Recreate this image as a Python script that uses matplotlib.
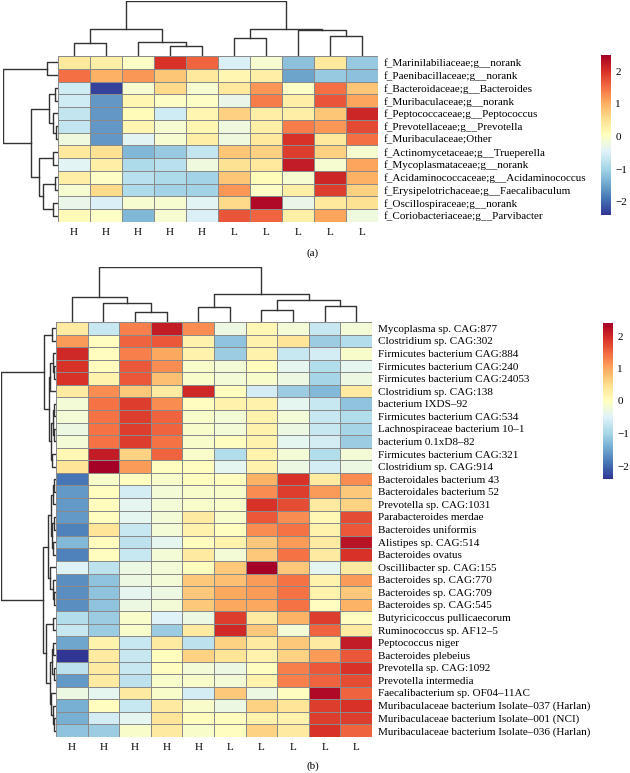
import matplotlib
matplotlib.use("Agg")
import matplotlib.pyplot as plt
import numpy as np

plt.rcParams['font.family'] = ['Liberation Serif', 'DejaVu Serif']

# ---- panel (a) data ----
cols_a = ['H', 'H', 'H', 'H', 'H', 'L', 'L', 'L', 'L', 'L']
rows_a = ['f_Marinilabiliaceae;g__norank', 'f_Paenibacillaceae;g__norank',
          'f_Bacteroidaceae;g__Bacteroides', 'f_Muribaculaceae;g__norank',
          'f_Peptococcaceae;g__Peptococcus', 'f_Prevotellaceae;g__Prevotella',
          'f_Muribaculaceae;Other', 'f_Actinomycetaceae;g__Trueperella',
          'f_Mycoplasmataceae;g__norank', 'f_Acidaminococcaceae;g__Acidaminococcus',
          'f_Erysipelotrichaceae;g__Faecalibaculum', 'f_Oscillospiraceae;g__norank',
          'f_Coriobacteriaceae;g__Parvibacter']
vals_a = [
    [0.4, 0.3, 0.0, 2.0, 1.6, -0.5, -0.1, -1.2, 0.4, -1.1],
    [1.5, 1.0, 1.2, 0.8, 0.4, 0.2, 0.3, -1.5, -1.1, -1.2],
    [-0.6, -2.3, -0.1, 0.6, -0.1, 0.4, 1.2, 0.0, 1.5, 0.8],
    [-0.6, -1.6, 0.2, 0.0, 0.0, -0.3, 1.4, 0.3, 1.7, 1.1],
    [-0.7, -1.6, 0.1, -0.6, 0.2, 0.7, 0.3, 0.3, 0.8, 2.1],
    [-0.7, -1.6, 0.2, -0.1, 0.2, -0.2, 0.3, 1.4, 1.2, 1.8],
    [-0.2, -1.6, -0.4, -0.1, 0.3, -0.2, 0.4, 2.0, 0.4, 1.5],
    [0.4, 0.5, -1.3, -1.1, -0.7, 0.8, 0.7, 1.9, 0.7, -0.1],
    [-0.4, 0.3, -0.9, -0.8, -0.2, 0.5, 0.4, 2.2, -0.1, 1.1],
    [0.3, 0.0, -0.8, -0.9, -1.0, 0.8, 0.1, -0.1, 2.1, 1.0],
    [-0.1, 0.6, -0.9, -1.0, -1.0, 1.2, 0.0, 0.3, 1.9, 0.7],
    [-0.3, -0.5, -0.1, -0.1, -0.4, 0.6, 2.4, -0.3, 0.4, 0.5],
    [0.1, 0.0, -1.3, -0.1, -0.5, 1.7, 1.6, 0.3, 1.1, -0.2],
]
# merges: (left, right, height)
col_tree_a = [(0, 1, 13), (3, 4, 10), (2, 11, 14), (10, 12, 27), (8, 9, 20),
              (5, 6, 18), (7, 14, 26), (15, 16, 28), (13, 17, 56)]
row_tree_a = [(0, 1, 11), (2, 3, 3), (5, 6, 2), (4, 15, 5), (14, 16, 9),
              (7, 8, 5), (9, 10, 3), (11, 12, 5), (19, 20, 15), (18, 21, 19),
              (17, 22, 27), (13, 23, 55)]

# ---- panel (b) data ----
cols_b = ['H', 'H', 'H', 'H', 'H', 'L', 'L', 'L', 'L', 'L']
rows_b = ['Mycoplasma sp. CAG:877', 'Clostridium sp. CAG:302',
          'Firmicutes bacterium CAG:884', 'Firmicutes bacterium CAG:240',
          'Firmicutes bacterium CAG:24053', 'Clostridium sp. CAG:138',
          'bacterium IXDS–92', 'Firmicutes bacterium CAG:534',
          'Lachnospiraceae bacterium 10–1', 'bacterium 0.1xD8–82',
          'Firmicutes bacterium CAG:321', 'Clostridium sp. CAG:914',
          'Bacteroidales bacterium 43', 'Bacteroidales bacterium 52',
          'Prevotella sp. CAG:1031', 'Parabacteroides merdae',
          'Bacteroides uniformis', 'Alistipes sp. CAG:514', 'Bacteroides ovatus',
          'Oscillibacter sp. CAG:155', 'Bacteroides sp. CAG:770',
          'Bacteroides sp. CAG:709', 'Bacteroides sp. CAG:545',
          'Butyricicoccus pullicaecorum', 'Ruminococcus sp. AF12–5',
          'Peptococcus niger', 'Bacteroides plebeius', 'Prevotella sp. CAG:1092',
          'Prevotella intermedia', 'Faecalibacterium sp. OF04–11AC',
          'Muribaculaceae bacterium Isolate–037 (Harlan)',
          'Muribaculaceae bacterium Isolate–001 (NCI)',
          'Muribaculaceae bacterium Isolate–036 (Harlan)']
vals_b = [
    [0.3, -0.7, 1.3, 2.1, 1.2, -0.3, 0.1, -0.2, -0.7, -0.2],
    [1.1, 0.0, 1.5, 1.6, 0.2, -1.2, 0.2, 0.4, -1.1, -0.9],
    [2.0, 0.0, 1.3, 1.0, 0.2, -1.1, 0.2, -0.7, -0.6, -0.1],
    [1.9, 0.0, 1.6, 1.2, -0.1, -0.2, 0.0, -0.4, -0.9, -0.4],
    [1.9, 0.2, 1.6, 0.8, -0.1, -0.2, -0.1, -0.3, -1.0, -0.3],
    [0.3, 1.2, 0.7, 0.3, 2.0, 0.0, -0.6, -1.1, -1.3, 0.3],
    [-0.2, 1.4, 1.8, 1.2, 0.0, 0.2, 0.2, -0.4, -0.7, -1.2],
    [-0.2, 1.4, 1.8, 1.5, -0.1, -0.2, 0.2, -0.2, -0.7, -0.9],
    [-0.3, 1.4, 1.8, 1.5, -0.1, -0.2, 0.2, -0.3, -0.7, -1.0],
    [-0.2, 1.4, 1.8, 1.4, -0.1, 0.0, 0.2, -0.4, -0.6, -1.1],
    [0.1, 2.1, 0.6, 1.5, -0.1, -0.9, 0.2, -0.2, -0.9, -0.2],
    [0.4, 2.4, 1.1, 0.0, 0.0, -0.4, 0.2, -0.3, -0.6, -0.3],
    [-1.9, -0.1, 0.0, -0.1, 0.0, 0.0, 0.9, 1.9, 0.3, 1.2],
    [-1.6, 0.0, -0.6, -0.2, -0.1, -0.1, 1.2, 1.8, 1.1, 0.7],
    [-1.6, 0.0, -0.4, -0.2, -0.1, -0.1, 1.9, 1.7, 0.3, 0.6],
    [-1.6, 0.0, -0.4, -0.2, 0.3, -0.1, 1.6, 1.2, 0.1, 1.7],
    [-1.8, 0.4, -0.7, -0.2, 0.2, 0.0, 1.2, 1.4, 0.2, 1.6],
    [-1.3, 0.0, -0.8, -0.4, 0.0, 0.2, 0.7, 1.1, 0.3, 2.2],
    [-1.8, 0.0, -0.7, -0.2, 0.3, -0.2, 0.7, 1.4, 0.3, 1.9],
    [-0.5, -0.8, -0.3, -0.2, 0.0, 0.7, 2.4, 0.7, -0.4, 0.3],
    [-1.7, -1.2, -0.3, -0.2, 0.7, 0.8, 1.1, 1.4, 0.2, 1.1],
    [-1.7, -1.2, -0.4, -0.3, 0.7, 1.0, 1.1, 1.4, 0.2, 0.7],
    [-1.7, -1.2, -0.3, -0.2, 0.7, 1.0, 1.0, 1.4, 0.0, 0.9],
    [-0.9, -1.1, -0.1, -0.5, -0.3, 1.8, 0.3, 0.9, 1.8, 0.0],
    [-0.7, -1.1, -0.1, -1.1, 0.3, 2.0, 0.7, -0.2, 1.5, 0.3],
    [-1.5, 0.2, -0.7, 0.3, -0.8, 0.6, 0.3, 0.7, 0.3, 2.1],
    [-2.4, 0.3, -0.7, 0.0, 0.6, 0.4, 0.2, 0.6, 1.1, 1.6],
    [-0.8, 0.3, -0.7, 0.0, -0.2, -0.3, 0.0, 1.3, 1.6, 1.9],
    [-1.6, 0.3, -0.8, -0.1, -0.1, -0.2, 0.2, 1.3, 1.5, 1.7],
    [-0.3, -0.4, 0.3, -0.1, -0.6, 0.7, -0.3, 0.0, 2.3, 1.5],
    [-1.4, 0.0, -0.7, 0.3, -0.1, -0.3, 0.6, 0.4, 1.8, 1.9],
    [-1.4, -0.6, -0.4, 0.4, 0.0, 0.0, 0.2, 0.2, 1.8, 1.8],
    [-1.2, -1.1, -0.1, 0.3, -0.1, 0.0, 0.6, 0.3, 1.9, 1.5],
]
col_tree_b = [(2, 3, 10), (1, 10, 19), (0, 11, 25), (4, 5, 15), (6, 7, 12),
              (8, 9, 16), (14, 15, 22), (13, 16, 28), (12, 17, 55)]
row_tree_b = [(0, 1, 4), (3, 4, 2), (2, 34, 3), (35, 5, 6), (6, 7, 2), (8, 9, 2),
              (37, 38, 3), (10, 11, 4), (39, 40, 5), (36, 41, 7), (33, 42, 12),
              (12, 13, 2), (44, 14, 3), (15, 16, 2), (17, 18, 2.5), (46, 47, 3.5),
              (45, 48, 5), (21, 22, 1.5), (20, 50, 2.5), (19, 51, 6), (49, 52, 8),
              (23, 24, 2.5), (25, 26, 2.5), (27, 28, 2), (55, 56, 4), (31, 32, 1.5),
              (30, 58, 2.5), (29, 59, 5), (57, 60, 6), (54, 61, 10), (53, 62, 13),
              (43, 63, 55)]

W, H = 630, 773
fig = plt.figure(figsize=(6.3, 7.73), dpi=100)


def box(x0, y0, x1, y1):
    # pixel box (top-left origin) -> figure axes rect
    return [x0 / W, 1 - y1 / H, (x1 - x0) / W, (y1 - y0) / H]


def tree_segments(merges, n):
    pos = [i + 0.5 for i in range(n)]
    hts = [0.0] * n
    segs = []
    for a, b, h in merges:
        segs.append(([pos[a], pos[a], pos[b], pos[b]], [hts[a], h, h, hts[b]]))
        pos.append((pos[a] + pos[b]) / 2)
        hts.append(h)
    return segs


def draw_panel(vals, rows, cols, col_tree, row_tree, hm, cd, rd, cb, vmin, vmax, fs):
    data = np.array(vals)
    nr, nc = data.shape
    ax = fig.add_axes(box(*hm))
    mesh = ax.pcolormesh(data, cmap='RdYlBu_r', vmin=vmin, vmax=vmax,
                         edgecolors='#8a8a8a', linewidth=0.6)
    ax.set_xlim(0, nc)
    ax.set_ylim(nr, 0)
    for s in ax.spines.values():
        s.set_visible(False)
    ax.set_xticks(np.arange(nc) + 0.5)
    ax.set_xticklabels(cols, fontsize=fs)
    ax.yaxis.tick_right()
    ax.set_yticks(np.arange(nr) + 0.5)
    ax.set_yticklabels(rows, fontsize=fs)
    ax.tick_params(length=0, pad=4)

    axc = fig.add_axes(box(*cd))
    for xs, ys in tree_segments(col_tree, nc):
        axc.plot(xs, ys, color='#333333', lw=1)
    axc.set_xlim(0, nc)
    axc.set_ylim(0, max(t[2] for t in col_tree))
    axc.axis('off')

    axr = fig.add_axes(box(*rd))
    for ys, xs in tree_segments(row_tree, nr):
        axr.plot(xs, ys, color='#333333', lw=1)
    axr.set_ylim(nr, 0)
    axr.set_xlim(max(t[2] for t in row_tree), 0)
    axr.axis('off')

    cax = fig.add_axes(box(*cb))
    bar = fig.colorbar(mesh, cax=cax, ticks=[-2, -1, 0, 1, 2])
    bar.outline.set_visible(False)
    cax.tick_params(length=0, labelsize=fs, pad=3)


draw_panel(vals_a, rows_a, cols_a, col_tree_a, row_tree_a,
           hm=(58, 56, 378, 222), cd=(58, 1, 378, 56), rd=(3, 56, 58, 222),
           cb=(601, 55, 611, 215), vmin=-2.4, vmax=2.5, fs=8)
fig.text(313 / W, 1 - 253 / H, '(a)', ha='center', va='center', fontsize=8)

draw_panel(vals_b, rows_b, cols_b, col_tree_b, row_tree_b,
           hm=(56, 322, 372, 737), cd=(56, 267, 372, 322), rd=(1, 322, 56, 737),
           cb=(603, 323, 613, 479), vmin=-2.4, vmax=2.4, fs=8)
fig.text(313 / W, 1 - 766 / H, '(b)', ha='center', va='center', fontsize=8)

fig.savefig('out.png', dpi=100)
